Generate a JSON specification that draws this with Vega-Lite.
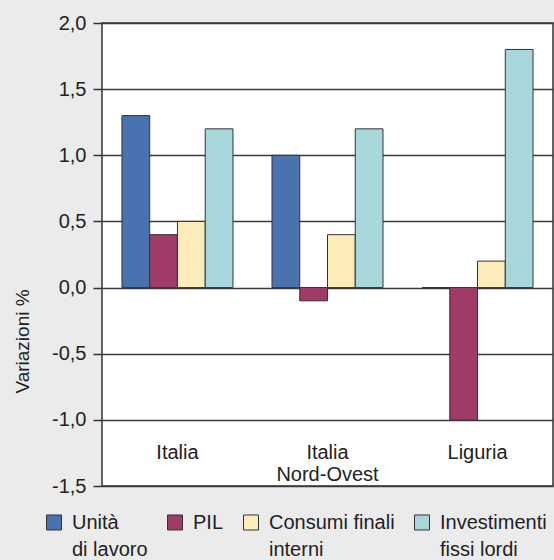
{
  "$schema": "https://vega.github.io/schema/vega-lite/v6.json",
  "width": 451,
  "height": 463,
  "autosize": {"type": "none"},
  "padding": {"left": 102, "top": 23, "right": 1, "bottom": 74},
  "background": "#ebebeb",
  "config": {
    "view": {"fill": "#ffffff", "stroke": "#333333", "strokeWidth": 1.5},
    "font": "Liberation Sans",
    "style": {"guide-label": {"lineHeight": 27}}
  },
  "layer": [
    {
      "data": {
        "values": [
          {"region": "Italia", "series": "Unità di lavoro", "value": 1.3},
          {"region": "Italia", "series": "PIL", "value": 0.4},
          {"region": "Italia", "series": "Consumi finali interni", "value": 0.5},
          {"region": "Italia", "series": "Investimenti fissi lordi", "value": 1.2},
          {"region": "Italia Nord-Ovest", "series": "Unità di lavoro", "value": 1.0},
          {"region": "Italia Nord-Ovest", "series": "PIL", "value": -0.1},
          {"region": "Italia Nord-Ovest", "series": "Consumi finali interni", "value": 0.4},
          {"region": "Italia Nord-Ovest", "series": "Investimenti fissi lordi", "value": 1.2},
          {"region": "Liguria", "series": "Unità di lavoro", "value": 0.0},
          {"region": "Liguria", "series": "PIL", "value": -1.0},
          {"region": "Liguria", "series": "Consumi finali interni", "value": 0.2},
          {"region": "Liguria", "series": "Investimenti fissi lordi", "value": 1.8}
        ]
      },
      "mark": {"type": "bar", "stroke": "#333333", "strokeWidth": 1},
      "encoding": {
        "x": {
          "field": "region",
          "type": "nominal",
          "scale": {"domain": ["Italia", "Italia Nord-Ovest", "Liguria"], "paddingInner": 0.26, "paddingOuter": 0.133},
          "axis": null
        },
        "xOffset": {
          "field": "series",
          "type": "nominal",
          "scale": {"domain": ["Unità di lavoro", "PIL", "Consumi finali interni", "Investimenti fissi lordi"], "paddingInner": 0, "paddingOuter": 0}
        },
        "y": {
          "field": "value",
          "type": "quantitative",
          "scale": {"domain": [-1.5, 2], "nice": false, "zero": false},
          "axis": {
            "values": [-1.5, -1, -0.5, 0, 0.5, 1, 1.5, 2],
            "labelExpr": "(datum.value < 0 ? '-' : '') + replace(format(abs(datum.value), '.1f'), '.', ',')",
            "labelFontSize": 20,
            "labelColor": "#222222",
            "labelPadding": 7,
            "tickSize": 9,
            "tickColor": "#333333",
            "tickWidth": 1.5,
            "domain": false,
            "grid": true,
            "gridColor": "#3a3a3a",
            "gridWidth": 1.3,
            "title": "Variazioni %",
            "titleFontSize": 19,
            "titleFontWeight": "normal",
            "titleColor": "#222222",
            "titleX": -70,
            "titleY": 318
          }
        },
        "color": {
          "field": "series",
          "type": "nominal",
          "scale": {
            "domain": ["Unità di lavoro", "PIL", "Consumi finali interni", "Investimenti fissi lordi"],
            "range": ["#4a72b0", "#a03a68", "#fcecba", "#a7d7da"]
          },
          "legend": {
            "title": null,
            "orient": "none",
            "legendX": -58,
            "legendY": 496,
            "direction": "horizontal",
            "columns": 4,
            "symbolType": "M-1,-1.87H1V0.13H-1Z",
            "symbolSize": 225,
            "symbolStrokeColor": "#333333",
            "symbolStrokeWidth": 1,
            "symbolOpacity": 1,
            "labelFontSize": 20,
            "labelColor": "#222222",
            "labelOffset": 8,
            "columnPadding": 17,
            "labelBaseline": "alphabetic",
            "labelLimit": 300,
            "labelExpr": "datum.label == 'Unità di lavoro' ? ['Unità', 'di lavoro'] : datum.label == 'Consumi finali interni' ? ['Consumi finali', 'interni'] : datum.label == 'Investimenti fissi lordi' ? ['Investimenti', 'fissi lordi'] : ['PIL', ' ']"
          }
        }
      }
    },
    {
      "data": {
        "values": [
          {"region": "Italia", "label": "Italia"},
          {"region": "Italia Nord-Ovest", "label": "Italia\nNord-Ovest"},
          {"region": "Liguria", "label": "Liguria"}
        ]
      },
      "mark": {"type": "text", "fontSize": 20, "color": "#222222", "baseline": "middle", "lineBreak": "\n", "lineHeight": 22},
      "encoding": {
        "x": {"field": "region", "type": "nominal"},
        "y": {"datum": -1.25, "type": "quantitative"},
        "text": {"field": "label"}
      }
    }
  ]
}
